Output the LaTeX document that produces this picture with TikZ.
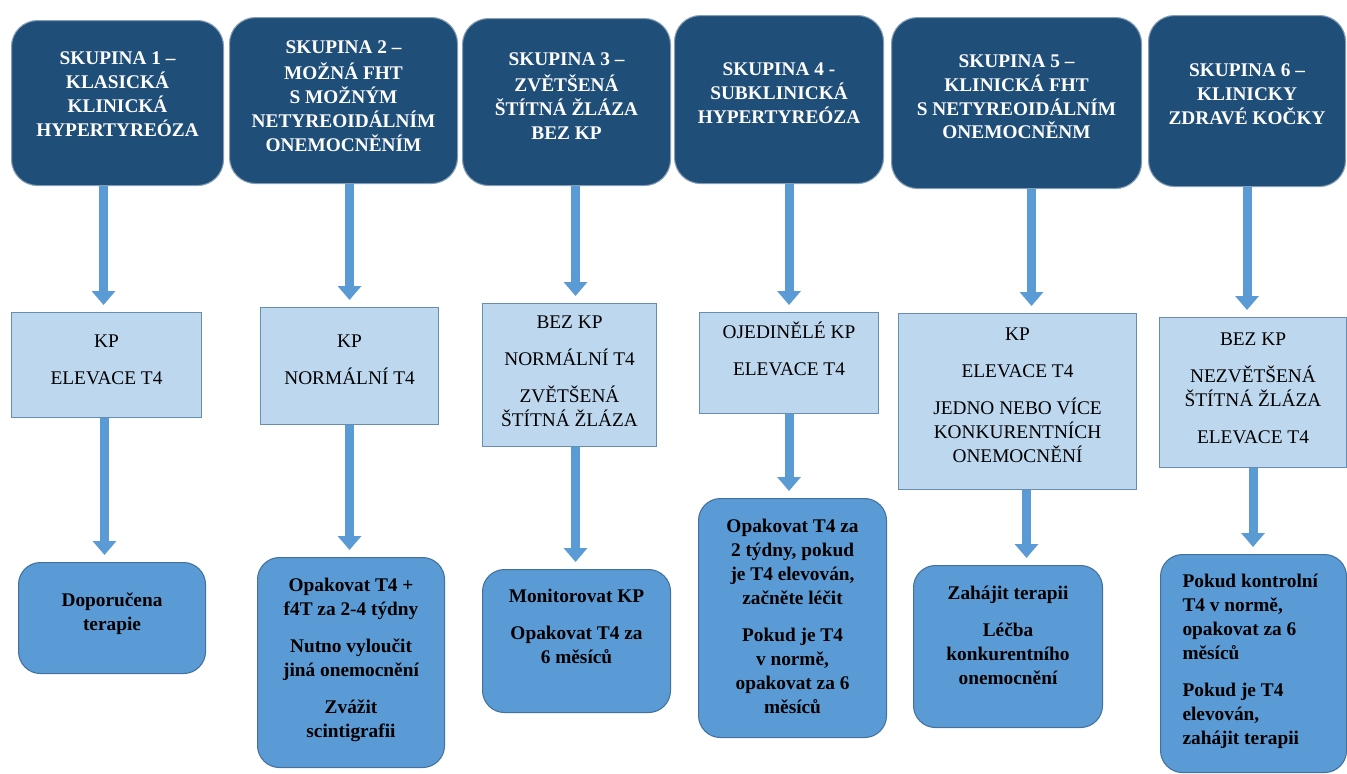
\documentclass[tikz,border=0pt]{standalone}
\usepackage{fontspec}
\setmainfont{Liberation Serif}
\usetikzlibrary{arrows.meta}

\definecolor{hdrblue}{HTML}{1F4E79}
\definecolor{midfill}{HTML}{BDD7EE}
\definecolor{botfill}{HTML}{5B9BD5}
\definecolor{edgeblue}{HTML}{41719C}
\definecolor{arrowblue}{HTML}{5B9BD5}

\newlength{\px}
\setlength{\px}{0.02cm}
\hyphenpenalty=10000
\exhyphenpenalty=10000

% width, height, space above first line (all in px)
\newcommand{\cellbox}[5][\centering]{\parbox[c][#3\px][t]{#2\px}{#1\vspace*{#4\px}\strut#5}}

\begin{document}
\begin{tikzpicture}[
x=0.02cm, y=-0.02cm,
box/.style={rectangle, inner sep=0pt, anchor=north west},
block-header/.style={box, rounded corners=0.52cm, fill=hdrblue, draw=hdrblue!55!white,
    line width=0.6pt, text=white, font=\fontsize{11}{13.6}\selectfont\bfseries},
block-body/.style={box, fill=midfill, draw=edgeblue!80, line width=0.6pt,
    font=\fontsize{11}{13.6}\selectfont},
block-end/.style={box, rounded corners=0.44cm, fill=botfill, draw=edgeblue, line width=0.6pt,
    font=\fontsize{11}{13.6}\selectfont\bfseries},
arrow/.style={draw=arrowblue, line width=0.18cm,
    -{Triangle[width=0.46cm, length=0.28cm]}, shorten >=0.14cm}
]
\useasboundingbox (0,0) rectangle (1347,774);

% headers
\node [block-header] (h1) at (11,20) {\cellbox{212}{165}{27.5}{SKUPINA 1 –\\ KLASICKÁ\\ KLINICKÁ\\ HYPERTYREÓZA}};
\node [block-header] (h2) at (229,17) {\cellbox{228}{166}{19.5}{SKUPINA 2 –\\ MOŽNÁ FHT\\ S MOŽNÝM\\ NETYREOIDÁLNÍM\\ ONEMOCNĚNÍM}};
\node [block-header] (h3) at (462,18) {\cellbox{208}{167}{30.5}{SKUPINA 3 –\\ ZVĚTŠENÁ\\ ŠTÍTNÁ ŽLÁZA\\ BEZ KP}};
\node [block-header] (h4) at (674,15) {\cellbox{209}{168}{43.5}{SKUPINA 4 -\\ SUBKLINICKÁ\\ HYPERTYREÓZA}};
\node [block-header] (h5) at (891,17) {\cellbox{250}{171}{33}{SKUPINA 5 –\\ KLINICKÁ FHT\\ S NETYREOIDÁLNÍM\\ ONEMOCNĚNM}};
\node [block-header] (h6) at (1148,15) {\cellbox{197}{171}{44.5}{SKUPINA 6 –\\ KLINICKY\\ ZDRAVÉ KOČKY}};

% findings
\node [block-body] (m1) at (11,312) {\cellbox{190}{105}{18.5}{KP\\[7.5pt] ELEVACE T4}};
\node [block-body] (m2) at (260,307) {\cellbox{178}{117}{23.5}{KP\\[7.5pt] NORMÁLNÍ T4}};
\node [block-body] (m3) at (482,303) {\cellbox{174}{143}{8.5}{BEZ KP\\[7.5pt] NORMÁLNÍ T4\\[7.5pt] ZVĚTŠENÁ\\ ŠTÍTNÁ ŽLÁZA}};
\node [block-body] (m4) at (699,312) {\cellbox{179}{101}{9.5}{OJEDINĚLÉ KP\\[7.5pt] ELEVACE T4}};
\node [block-body] (m5) at (898,313) {\cellbox{238}{176}{10.5}{KP\\[7.5pt] ELEVACE T4\\[7.5pt] JEDNO NEBO VÍCE\\ KONKURENTNÍCH\\ ONEMOCNĚNÍ}};
\node [block-body] (m6) at (1159,317) {\cellbox{187}{150}{11.5}{BEZ KP\\[7.5pt] NEZVĚTŠENÁ\\ ŠTÍTNÁ ŽLÁZA\\[7.5pt] ELEVACE T4}};

% recommendations
\node [block-end] (b1) at (18,562) {\cellbox{187}{111}{27.5}{Doporučena\\ terapie}};
\node [block-end] (b2) at (257,557) {\cellbox{187}{210}{17.5}{Opakovat T4 +\\ f4T za 2-4 týdny\\[7.5pt] Nutno vyloučit\\ jiná onemocnění\\[7.5pt] Zvážit\\ scintigrafii}};
\node [block-end] (b3) at (482,569) {\cellbox{188}{143}{16.5}{Monitorovat KP\\[7.5pt] Opakovat T4 za\\ 6 měsíců}};
\node [block-end] (b4) at (698,498) {\cellbox{188}{239}{17.5}{Opakovat T4 za\\ 2 týdny, pokud\\ je T4 elevován,\\ začněte léčit\\[7.5pt] Pokud je T4\\ v normě,\\ opakovat za 6\\ měsíců}};
\node [block-end] (b5) at (913,565) {\cellbox{189}{162}{17.5}{Zahájit terapii\\[7.5pt] Léčba\\ konkurentního\\ onemocnění}};
\node [block-end] (b6) at (1160,554) {\cellbox[\raggedright\leftskip=22\px]{186}{218}{16.5}{Pokud kontrolní\\ T4 v normě,\\ opakovat za 6\\ měsíců\\[7.5pt] Pokud je T4\\ elevován,\\ zahájit terapii}};

% arrows header -> findings
\draw [arrow] ([xshift=-0.06cm]m1.north |- h1.south) -- ([xshift=-0.06cm]m1.north);
\draw [arrow] (m2.north |- h2.south) -- (m2.north);
\draw [arrow] ([xshift=0.12cm]m3.north |- h3.south) -- ([xshift=0.12cm]m3.north);
\draw [arrow] (m4.north |- h4.south) -- (m4.north);
\draw [arrow] ([xshift=0.28cm]m5.north |- h5.south) -- ([xshift=0.28cm]m5.north);
\draw [arrow] ([xshift=-0.12cm]m6.north |- h6.south) -- ([xshift=-0.12cm]m6.north);

% arrows findings -> recommendations
\draw [arrow] ([xshift=-0.04cm]m1.south) -- ([xshift=-0.04cm]m1.south |- b1.north);
\draw [arrow] (m2.south) -- (m2.south |- b2.north);
\draw [arrow] ([xshift=0.12cm]m3.south) -- ([xshift=0.12cm]m3.south |- b3.north);
\draw [arrow] (m4.south) -- (m4.south |- b4.north);
\draw [arrow] ([xshift=0.18cm]m5.south) -- ([xshift=0.18cm]m5.south |- b5.north);
\draw [arrow] (m6.south) -- (m6.south |- b6.north);
\end{tikzpicture}
\end{document}
